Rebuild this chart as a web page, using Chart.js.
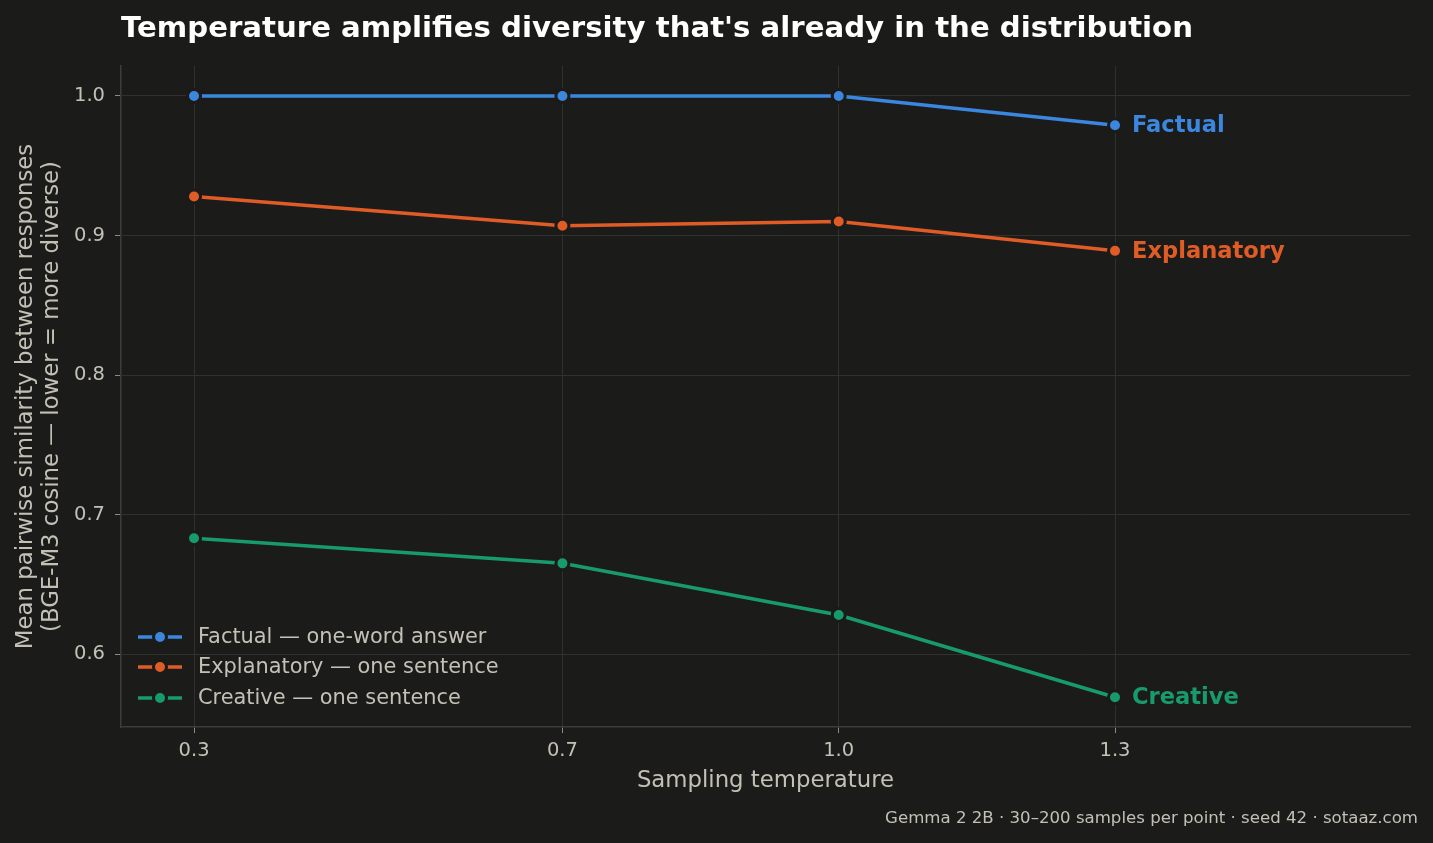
<!DOCTYPE html>
<html>
<head>
<meta charset="utf-8">
<style>
  html, body { margin: 0; padding: 0; background: #1b1b19; }
  #wrap { position: relative; width: 1433px; height: 843px; }
</style>
<script src="https://cdn.jsdelivr.net/npm/chart.js@4.4.1/dist/chart.umd.min.js"></script>
</head>
<body>
<div id="wrap"><canvas id="tempChart"></canvas></div>
<script>
// data
var temperatures = [0.3, 0.7, 1.0, 1.3];
var factual = [1.000, 1.000, 1.000, 0.979];
var explanatory = [0.928, 0.907, 0.910, 0.889];
var creative = [0.683, 0.665, 0.628, 0.569];
var seriesNames = ['Factual \u2014 one-word answer', 'Explanatory \u2014 one sentence', 'Creative \u2014 one sentence'];
var endLabels = ['Factual', 'Explanatory', 'Creative'];
var xTicks = [0.3, 0.7, 1.0, 1.3];
var yTicks = [0.6, 0.7, 0.8, 0.9, 1.0];

var BG = '#1b1b19';
var TEXT = '#c3c0b6';
var GRID = '#31312f';
var colors = ['#3b87df', '#e05c27', '#189b6c'];
var FONT = '"DejaVu Sans", sans-serif';

function pts(vals) {
    return vals.map(function(v, i) { return { x: temperatures[i], y: v }; });
}

function makeSet(label, vals, color) {
    return {
        label: label,
        data: pts(vals),
        borderColor: color,
        backgroundColor: color,
        borderWidth: 3.5,
        pointRadius: 6.5,
        pointHoverRadius: 6.5,
        pointBackgroundColor: color,
        pointBorderColor: BG,
        pointBorderWidth: 3,
        tension: 0,
        fill: false
    };
}

// titles, legend, end labels
var decorations = {
    id: 'decorations',
    beforeDraw: function(chart) {
        var c = chart.ctx;
        c.save();
        c.fillStyle = BG;
        c.fillRect(0, 0, chart.width, chart.height);
        c.restore();
    },
    afterDraw: function(chart) {
        var c = chart.ctx;
        var area = chart.chartArea;
        var xs = chart.scales.x, ys = chart.scales.y;
        c.save();

        // title
        c.fillStyle = '#ffffff';
        c.font = 'bold 29.2px ' + FONT;
        c.textAlign = 'left';
        c.textBaseline = 'middle';
        c.fillText("Temperature amplifies diversity that's already in the distribution", 121, 29);

        // y axis title (two lines)
        c.fillStyle = TEXT;
        c.font = '22.8px ' + FONT;
        c.textAlign = 'center';
        c.save();
        c.translate(26, (area.top + area.bottom) / 2);
        c.rotate(-Math.PI / 2);
        c.fillText('Mean pairwise similarity between responses', 0, 0);
        c.restore();
        c.save();
        c.translate(52, (area.top + area.bottom) / 2);
        c.rotate(-Math.PI / 2);
        c.fillText('(BGE-M3 cosine \u2014 lower = more diverse)', 0, 0);
        c.restore();

        // x axis title
        c.fillText('Sampling temperature', (area.left + area.right) / 2, 781);

        // footer
        c.font = '16.6px ' + FONT;
        c.textAlign = 'right';
        c.fillText('Gemma 2 2B \u00b7 30\u2013200 samples per point \u00b7 seed 42 \u00b7 sotaaz.com', 1418, 819);

        // legend
        var rows = [637, 667, 698];
        c.font = '20.9px ' + FONT;
        c.textAlign = 'left';
        rows.forEach(function(y, i) {
            c.strokeStyle = colors[i];
            c.lineWidth = 3.5;
            c.beginPath();
            c.moveTo(138, y);
            c.lineTo(182, y);
            c.stroke();
            c.beginPath();
            c.arc(160, y, 6.5, 0, Math.PI * 2);
            c.fillStyle = colors[i];
            c.fill();
            c.lineWidth = 3;
            c.strokeStyle = BG;
            c.stroke();
            c.fillStyle = TEXT;
            c.fillText(seriesNames[i], 198, y + 1);
        });

        // end-of-line labels
        c.font = 'bold 22.6px ' + FONT;
        chart.data.datasets.forEach(function(ds, i) {
            var last = ds.data[ds.data.length - 1];
            c.fillStyle = colors[i];
            c.fillText(endLabels[i], xs.getPixelForValue(last.x) + 17, ys.getPixelForValue(last.y) + 1);
        });

        c.restore();
    }
};

var ctx = document.getElementById('tempChart');
new Chart(ctx, {
    type: 'line',
    data: {
        datasets: [
            makeSet(seriesNames[0], factual, colors[0]),
            makeSet(seriesNames[1], explanatory, colors[1]),
            makeSet(seriesNames[2], creative, colors[2])
        ]
    },
    options: {
        responsive: true,
        maintainAspectRatio: false,
        animation: false,
        devicePixelRatio: 1,
        layout: { padding: { left: 0, right: 23, top: 66, bottom: 0 } },
        plugins: {
            legend: { display: false },
            title: { display: false },
            tooltip: { enabled: false }
        },
        scales: {
            x: {
                type: 'linear',
                min: 0.2207,
                max: 1.6203,
                afterFit: function(s) { s.height = 116; },
                afterBuildTicks: function(s) {
                    s.ticks = xTicks.map(function(v) { return { value: v }; });
                },
                ticks: {
                    color: TEXT,
                    font: { family: FONT, size: 19.5 },
                    padding: 6,
                    maxRotation: 0,
                    callback: function(v) { return Number(v).toFixed(1); }
                },
                grid: { color: GRID, lineWidth: 1, tickColor: '#8d8b85', tickLength: 6 },
                border: { display: true, color: '#3d3d3a', width: 1.5 }
            },
            y: {
                type: 'linear',
                min: 0.5477,
                max: 1.0215,
                afterFit: function(s) { s.width = 121; },
                afterBuildTicks: function(s) {
                    s.ticks = yTicks.map(function(v) { return { value: v }; });
                },
                ticks: {
                    color: TEXT,
                    font: { family: FONT, size: 19.5 },
                    padding: 10,
                    callback: function(v) { return Number(v).toFixed(1); }
                },
                grid: { color: GRID, lineWidth: 1, tickColor: '#8d8b85', tickLength: 6 },
                border: { display: true, color: '#3d3d3a', width: 1.5 }
            }
        }
    },
    plugins: [decorations]
});
</script>
</body>
</html>
